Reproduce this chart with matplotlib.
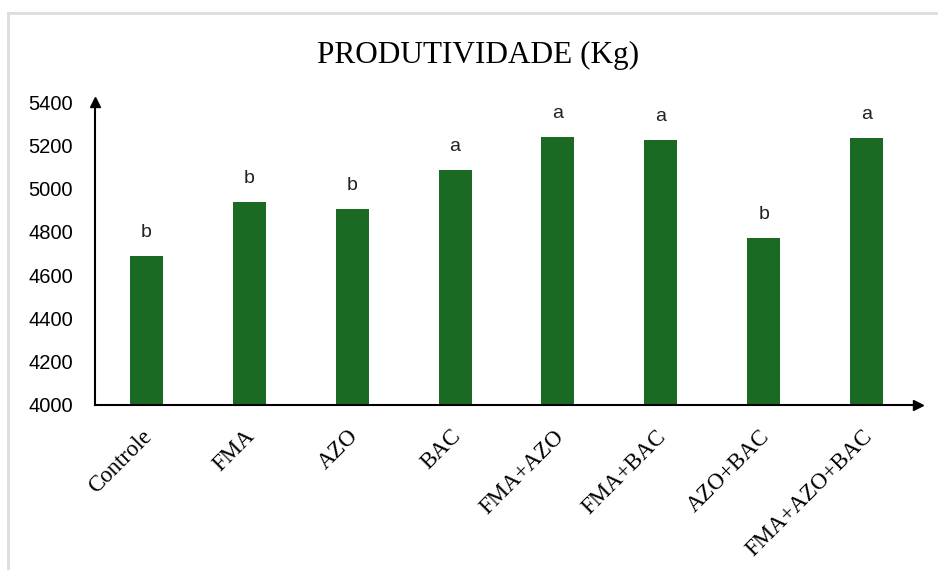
import matplotlib.pyplot as plt
import matplotlib.transforms as mtransforms
from matplotlib.lines import Line2D

# data
tratamentos = ['Controle', 'FMA', 'AZO', 'BAC', 'FMA+AZO', 'FMA+BAC', 'AZO+BAC', 'FMA+AZO+BAC']
produtividade = [4688, 4937, 4905, 5085, 5240, 5223, 4771, 5232]
letras = ['b', 'b', 'b', 'a', 'a', 'a', 'b', 'a']
yticks = [4000, 4200, 4400, 4600, 4800, 5000, 5200, 5400]

fig = plt.figure(figsize=(9.38, 5.70), dpi=100)
ax = fig.add_axes([0.1013, 0.2895, 0.8774, 0.5315])

x = range(len(tratamentos))
ax.bar(x, produtividade, width=0.32, color='#1b6a24', zorder=2)

for i, (v, l) in enumerate(zip(produtividade, letras)):
    ax.text(i, v + 70, l, ha='center', va='bottom', fontsize=14,
            family='Liberation Sans', color='#222222')

ax.set_xlim(-0.5, 7.5)
ax.set_ylim(4000, 5400)
ax.set_yticks(yticks)
ax.set_yticklabels([str(t) for t in yticks], family='Liberation Sans', fontsize=14.5)
ax.set_xticks(list(x))
ax.set_xticklabels(tratamentos, rotation=45, ha='right', rotation_mode='anchor',
                   family='Liberation Serif', fontsize=16.5)
ax.tick_params(axis='both', length=0)
ax.tick_params(axis='y', pad=16)
ax.tick_params(axis='x', pad=15)

# nudge the rotated labels a little to the left
shift = mtransforms.ScaledTranslation(-5 / 100, 0, fig.dpi_scale_trans)
for lab in ax.get_xticklabels():
    lab.set_transform(lab.get_transform() + shift)

for s in ['top', 'right']:
    ax.spines[s].set_visible(False)
ax.spines['left'].set_linewidth(1.5)
ax.spines['bottom'].set_linewidth(1.5)

# arrow heads on axes
ax.plot(1, 4000, '>k', markersize=7, transform=ax.get_yaxis_transform(), clip_on=False)
ax.plot(-0.5, 1, '^k', markersize=7, transform=ax.get_xaxis_transform(), clip_on=False)

fig.text(0.51, 0.903, 'PRODUTIVIDADE (Kg)', ha='center', va='center',
         family='Liberation Serif', fontsize=22.5)

# light frame of the chart area
fig.add_artist(Line2D([8 / 938, 1], [1 - 13 / 570, 1 - 13 / 570], color='#dddddd', lw=2))
fig.add_artist(Line2D([8 / 938, 8 / 938], [0, 1 - 13 / 570], color='#dddddd', lw=2))

fig.savefig('out.png', dpi=100)
